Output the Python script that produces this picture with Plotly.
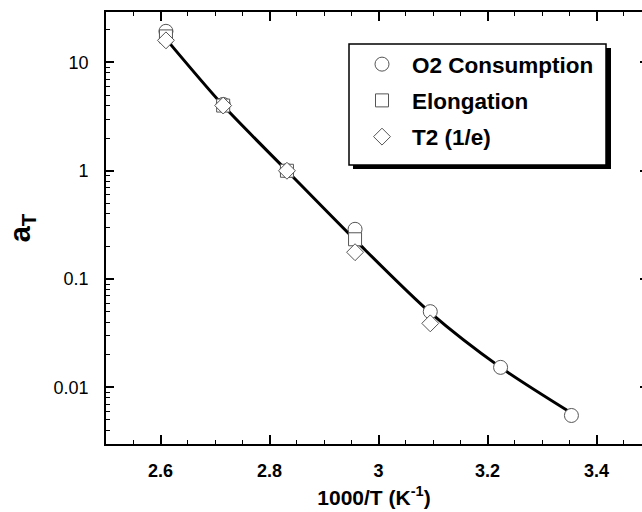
import plotly.graph_objects as go

# Inverse temperature, 1000/T (K^-1)
x_o2 = [2.610, 2.715, 2.832, 2.957, 3.095, 3.224, 3.354]
a_o2 = [19.4, 4.1, 1.0, 0.288, 0.050, 0.0153, 0.0055]

x_elong = [2.610, 2.715, 2.832, 2.957]
a_elong = [17.4, 4.0, 1.0, 0.233]

x_t2 = [2.610, 2.715, 2.832, 2.957, 3.095]
a_t2 = [16.0, 4.0, 1.0, 0.177, 0.039]

# Fitted shift-factor curve
x_fit = [2.610, 2.715, 2.832, 2.957, 3.095, 3.224, 3.354]
a_fit = [16.5, 4.0, 1.0, 0.230, 0.049, 0.0153, 0.0058]

x_ticks = [2.6, 2.8, 3.0, 3.2, 3.4]
x_tick_text = ["2.6", "2.8", "3", "3.2", "3.4"]
y_ticks = [0.01, 0.1, 1, 10]
y_tick_text = ["0.01", "0.1", "1", "10"]

FONT = "Liberation Sans, Arial, sans-serif"
W, H = 642, 512
ML, MR, MT, MB = 106, 0, 12, 68

fig = go.Figure()

fig.add_trace(go.Scatter(
    x=x_fit, y=a_fit, mode="lines",
    line=dict(color="black", width=3, shape="spline", smoothing=0.8),
    showlegend=False, hoverinfo="skip"))

marker_line = dict(color="#555555", width=1)
fig.add_trace(go.Scatter(
    x=x_o2, y=a_o2, mode="markers", name="O2 Consumption", legendgroup="a",
    marker=dict(symbol="circle", size=14, color="white", line=marker_line)))
fig.add_trace(go.Scatter(
    x=x_elong, y=a_elong, mode="markers", name="Elongation", legendgroup="b",
    marker=dict(symbol="square", size=13, color="white", line=marker_line)))
fig.add_trace(go.Scatter(
    x=x_t2, y=a_t2, mode="markers", name="T2 (1/e)", legendgroup="c",
    marker=dict(symbol="diamond", size=13, color="white", line=marker_line)))

# Right-hand tick stubs (no axis line on that side)
fig.add_trace(go.Scatter(x=[None], y=[None], yaxis="y2", showlegend=False,
                         hoverinfo="skip"))

plot_w = W - ML - MR
plot_h = H - MT - MB
x0 = 2.5
x1 = x0 + plot_w / 545.0


def px_x(p):
    return (p - ML) / plot_w


def px_y(p):
    return (H - MB - p) / plot_h


fig.update_layout(
    width=W, height=H,
    margin=dict(l=ML, r=MR, t=MT, b=MB, pad=0),
    paper_bgcolor="white", plot_bgcolor="white",
    font=dict(family=FONT, color="black", size=18),
    xaxis=dict(
        range=[x0, x1], showgrid=False, zeroline=False,
        showline=True, linecolor="black", linewidth=1.5, mirror="ticks",
        ticks="inside", ticklen=9, tickwidth=1.5, tickcolor="black",
        tickvals=x_ticks, ticktext=x_tick_text,
        tickfont=dict(size=18, family=FONT, weight="bold"),
        ticklabelstandoff=10,
        minor=dict(dtick=0.05, tick0=2.5, ticks="inside", ticklen=4,
                   tickwidth=1, tickcolor="black"),
        title=dict(text="1000/T (K<sup>-1</sup>)",
                   font=dict(size=21, family=FONT, weight="bold"),
                   standoff=10),
    ),
    yaxis=dict(
        type="log", range=[-2.523, 1.466], showgrid=False, zeroline=False,
        showline=True, linecolor="black", linewidth=1.8, mirror=False,
        ticks="inside", ticklen=8, tickwidth=1.5, tickcolor="black",
        tickvals=y_ticks, ticktext=y_tick_text,
        tickfont=dict(size=18, family=FONT),
        ticklabelstandoff=12,
        minor=dict(dtick="D1", ticks="inside", ticklen=4, tickwidth=1,
                   tickcolor="black"),
        title=dict(text="a<sub>T</sub>",
                   font=dict(size=29, family=FONT, weight="bold"),
                   standoff=14),
    ),
    yaxis2=dict(
        type="log", range=[-2.523, 1.466], overlaying="y", side="right",
        showgrid=False, zeroline=False, showline=False,
        ticks="inside", ticklen=2, tickwidth=1.5, tickcolor="black",
        tickvals=y_ticks, showticklabels=False,
    ),
    legend=dict(
        x=px_x(352), y=px_y(43),
        xanchor="left", yanchor="top",
        bgcolor="rgba(0,0,0,0)", borderwidth=0,
        font=dict(size=22.5, family=FONT, weight="bold"),
        itemwidth=50, tracegroupgap=4,
    ),
    showlegend=True,
)

# Legend frame with its drop shadow
fig.add_shape(type="rect", xref="paper", yref="paper",
              x0=px_x(353), x1=px_x(611), y0=px_y(169), y1=px_y(48),
              fillcolor="black", line=dict(width=0), layer="above")
fig.add_shape(type="rect", xref="paper", yref="paper",
              x0=px_x(349), x1=px_x(606), y0=px_y(165), y1=px_y(44),
              fillcolor="white", line=dict(color="black", width=1.5),
              layer="above")

fig.write_html("out.html")
